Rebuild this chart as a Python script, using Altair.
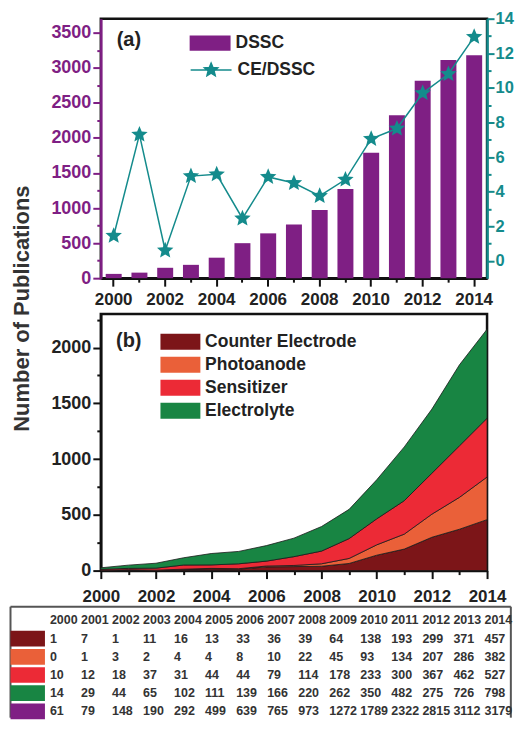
import altair as alt
import pandas as pd

# ---------------- data ----------------
years = list(range(2000, 2015))
dssc = [61, 79, 148, 190, 292, 499, 639, 765, 973, 1272, 1789, 2322, 2815, 3112, 3179]
ce_dssc_ratio = [1.45, 7.3, 0.6, 4.9, 5.0, 2.45, 4.85, 4.5, 3.75, 4.7, 7.05, 7.65, 9.7, 10.8, 12.95]
counter_electrode = [1, 7, 1, 11, 16, 13, 33, 36, 39, 64, 138, 193, 299, 371, 457]
photoanode = [0, 1, 3, 2, 4, 4, 8, 10, 22, 45, 93, 134, 207, 286, 382]
sensitizer = [10, 12, 18, 37, 31, 44, 44, 79, 114, 178, 233, 300, 367, 462, 527]
electrolyte_table = [14, 29, 44, 65, 102, 111, 139, 166, 220, 262, 350, 482, 275, 726, 798]
electrolyte_area = [14, 29, 44, 65, 102, 111, 139, 166, 220, 262, 350, 482, 575, 726, 798]
categories = ["Counter Electrode", "Photoanode", "Sensitizer", "Electrolyte"]

PURPLE = "#7F1F84"
TEAL = "#148B8C"
CAT_COLORS = ["#7C1518", "#EA6039", "#EC2A36", "#188543"]
FONT = "Liberation Sans"
INK = "#222222"

STAR = ("M0,-1L0.2645,-0.364L0.951,-0.309L0.428,0.139L0.588,0.809L0,0.45"
        "L-0.588,0.809L-0.428,0.139L-0.951,-0.309L-0.2645,-0.364Z")
LEG_RECT = "M-1,-0.37L1,-0.37L1,0.37L-1,0.37Z"
LEG_RECT_B = "M-2.5,-1L2.5,-1L2.5,1L-2.5,1Z"
s = 0.34
LEG_STAR = ("M-1,0L1,0M" + "L".join(
    f"{x*s:.3f},{y*s:.3f}" for x, y in [
        (0, -1), (0.2645, -0.364), (0.951, -0.309), (0.428, 0.139), (0.588, 0.809), (0, 0.45),
        (-0.588, 0.809), (-0.428, 0.139), (-0.951, -0.309), (-0.2645, -0.364)]) + "Z")

W = 387


def tick_size(expr, major=8, minor=4):
    return {"condition": {"test": expr, "value": major}, "value": minor}


# ---------------- panel (a) ----------------
dfa = pd.DataFrame({"year": years, "dssc": dssc, "ratio": ce_dssc_ratio,
                    "s1": "DSSC", "s2": "CE/DSSC"})


def x_axis(pad):
    return dict(
        title=None, labelAngle=0, labelFont=FONT, labelFontWeight="bold", labelFontSize=17,
        labelColor=INK, labelOverlap=False, labelPadding=pad, labelFlush=False,
        domainColor="#111", domainWidth=2.5, tickColor="#111", tickWidth=2,
        tickSize=tick_size("datum.value % 2 === 0"),
        labelExpr="datum.value % 2 === 0 ? datum.label : ''",
    )


xa = alt.X("year:O", scale=alt.Scale(paddingInner=0.38, paddingOuter=0.19),
           axis=alt.Axis(values=years, **x_axis(5)))

yl_axis = alt.Axis(
    values=list(range(0, 3501, 250)), format="d",
    labelExpr="datum.value % 500 === 0 ? datum.label : ''",
    labelFont=FONT, labelFontWeight="bold", labelFontSize=18, labelColor=PURPLE,
    labelPadding=2, domainColor=PURPLE, domainWidth=2.5, tickColor=PURPLE, tickWidth=2,
    tickSize=tick_size("datum.value % 500 === 0"), grid=False,
    title="Number of Publications", titleFont=FONT, titleFontSize=22,
    titleFontWeight="bold", titleColor="#333", titleX=-67, titleY=290,
    titleAlign="center", titleBaseline="bottom", titleAngle=270,
)
yr_axis = alt.Axis(
    orient="right", values=list(range(0, 15)),
    labelExpr="datum.value % 2 === 0 ? datum.label : ''",
    labelFont=FONT, labelFontWeight="bold", labelFontSize=16.5, labelColor=TEAL,
    labelPadding=1, domainColor=TEAL, domainWidth=2.5, tickColor=TEAL, tickWidth=2,
    tickSize=tick_size("datum.value % 2 === 0", 7, 4), grid=False, title=None,
)

left_scale = alt.Scale(domain=[0, 3700], nice=False)
right_scale = alt.Scale(domain=[-1, 14], nice=False)

bars = alt.Chart(dfa).mark_bar().encode(
    x=xa,
    y=alt.Y("dssc:Q", scale=left_scale, axis=yl_axis),
    color=alt.Color("s1:N", scale=alt.Scale(domain=["DSSC"], range=[PURPLE]),
                    legend=alt.Legend(title=None, orient="none", legendX=89, legendY=4,
                                      symbolType=LEG_RECT, symbolSize=1681,
                                      symbolStrokeWidth=0, labelFont=FONT,
                                      labelFontSize=17.5, labelFontWeight="bold",
                                      labelColor=INK, labelOffset=5, padding=0)),
)
label_a = alt.Chart(pd.DataFrame({"year": [2000], "t": ["(a)"]})).mark_text(
    font=FONT, fontSize=20, fontWeight="bold", color=INK, align="left", baseline="middle", dx=3
).encode(x=xa, y=alt.datum(3400, scale=left_scale, axis=None), text="t:N")

line = alt.Chart(dfa).mark_line(color=TEAL, strokeWidth=1.5).encode(
    x=xa, y=alt.Y("ratio:Q", scale=right_scale, axis=yr_axis))
points = alt.Chart(dfa).mark_point(shape=STAR, filled=True, size=300, opacity=1).encode(
    x=xa, y=alt.Y("ratio:Q", scale=right_scale, axis=None),
    color=alt.Color("s2:N", scale=alt.Scale(domain=["CE/DSSC"], range=[TEAL]),
                    legend=alt.Legend(title=None, orient="none", legendX=89, legendY=30,
                                      symbolType=LEG_STAR, symbolSize=1681,
                                      symbolStrokeColor=TEAL, symbolStrokeWidth=1.5,
                                      symbolFillColor=TEAL,
                                      labelFont=FONT, labelFontSize=17.5,
                                      labelFontWeight="bold", labelColor=INK,
                                      labelOffset=5, padding=0)),
)

panel_a = alt.layer(bars, label_a, line, points).resolve_scale(
    y="independent", color="independent"
).properties(width=W, height=260)

# ---------------- panel (b) ----------------
series_b = [counter_electrode, photoanode, sensitizer, electrolyte_area]
rows = []
for i, (cat, vals) in enumerate(zip(categories, series_b)):
    for yv, v in zip(years, vals):
        rows.append({"year": yv, "value": v, "category": cat, "idx": i})
dfb = pd.DataFrame(rows)

xb = alt.X("year:Q", scale=alt.Scale(domain=[2000, 2014], nice=False, zero=False),
           axis=alt.Axis(values=years, format="d", **x_axis(10)))
b_scale = alt.Scale(domain=[0, 2300], nice=False)
b_axis = alt.Axis(values=list(range(0, 2251, 250)), format="d",
                  labelExpr="datum.value % 500 === 0 ? datum.label : ''",
                  labelFont=FONT, labelFontWeight="bold", labelFontSize=18,
                  labelColor=INK, labelPadding=2, domainColor="#111",
                  domainWidth=2.5, tickColor="#111", tickWidth=2,
                  tickSize=tick_size("datum.value % 500 === 0"),
                  grid=False, title=None)

area = alt.Chart(dfb).mark_area(stroke="#1a1a1a", strokeWidth=0.8, opacity=1).encode(
    x=xb,
    y=alt.Y("value:Q", stack="zero", scale=b_scale, axis=b_axis),
    color=alt.Color("category:N", scale=alt.Scale(domain=categories, range=CAT_COLORS),
                    legend=alt.Legend(title=None, orient="none", legendX=71, legendY=19,
                                      symbolType=LEG_RECT_B, symbolSize=256,
                                      symbolStrokeWidth=0, labelFont=FONT,
                                      labelFontSize=17.5, labelFontWeight="bold",
                                      labelColor=INK, labelOffset=16, rowPadding=4,
                                      padding=0)),
    order=alt.Order("idx:Q", sort="ascending"),
)
label_b = alt.Chart(pd.DataFrame({"year": [2000.55], "t": ["(b)"]})).mark_text(
    font=FONT, fontSize=20, fontWeight="bold", color=INK, align="left", baseline="middle"
).encode(x=xb, y=alt.datum(2060, scale=b_scale, axis=b_axis), text="t:N")

panel_b = alt.layer(area, label_b).properties(width=W, height=257)

# ---------------- table ----------------
table_series = [counter_electrode, photoanode, sensitizer, electrolyte_table, dssc]
swatch_colors = CAT_COLORS + [PURPLE]
trows = [{"col": c, "row": 0, "txt": str(yv)} for c, yv in enumerate(years)]
for r, vals in enumerate(table_series, start=1):
    for c, v in enumerate(vals):
        trows.append({"col": c, "row": r, "txt": str(v)})
dft = pd.DataFrame(trows)
dfs = pd.DataFrame({"row": list(range(1, 6)), "key": ["ce", "pa", "se", "el", "ds"],
                    "x0": -1.27, "x1": -0.16, "lo": [r - 0.43 for r in range(1, 6)],
                    "hi": [r + 0.43 for r in range(1, 6)]})
dfedge = pd.DataFrame({"x0": [-1.27, -1.27, 14.85], "x1": [14.85, -1.27, 14.85],
                       "y0": [-0.76, -0.76, -0.76], "y1": [-0.76, 5.35, 5.35]})

tx_scale = alt.Scale(domain=[0, 14], range=[-51, 384.4], nice=False, zero=False)
ty_scale = alt.Scale(domain=[0, 5], range=[14, 105], nice=False, zero=False)

ttext = alt.Chart(dft).mark_text(
    font=FONT, fontSize=12.5, fontWeight="bold", color="#333", align="left", baseline="middle"
).encode(
    x=alt.X("col:Q", scale=tx_scale, axis=None),
    y=alt.Y("row:Q", scale=ty_scale, axis=None),
    text="txt:N",
)
swatches = alt.Chart(dfs).mark_rect().encode(
    x=alt.X("x0:Q", scale=tx_scale, axis=None), x2="x1:Q",
    y=alt.Y("lo:Q", scale=ty_scale, axis=None), y2="hi:Q",
    color=alt.Color("key:N", scale=alt.Scale(domain=["ce", "pa", "se", "el", "ds"],
                                             range=swatch_colors), legend=None),
)
edges = alt.Chart(dfedge).mark_rule(stroke="#555", strokeWidth=2).encode(
    x=alt.X("x0:Q", scale=tx_scale, axis=None), x2="x1:Q",
    y=alt.Y("y0:Q", scale=ty_scale, axis=None), y2="y1:Q",
)
table = alt.layer(edges, swatches, ttext).properties(
    width=W, height=100, view=alt.ViewBackground(stroke="transparent")
)

chart = alt.vconcat(panel_a, panel_b, table, spacing=36, bounds="flush").resolve_scale(
    color="independent"
).properties(
    padding={"left": 0, "top": 0, "right": 0, "bottom": 0}
).configure_view(stroke="#111", strokeWidth=2.5).configure_axis(grid=False)

chart.save("out.html", embed_options={"renderer": "svg", "actions": False})
